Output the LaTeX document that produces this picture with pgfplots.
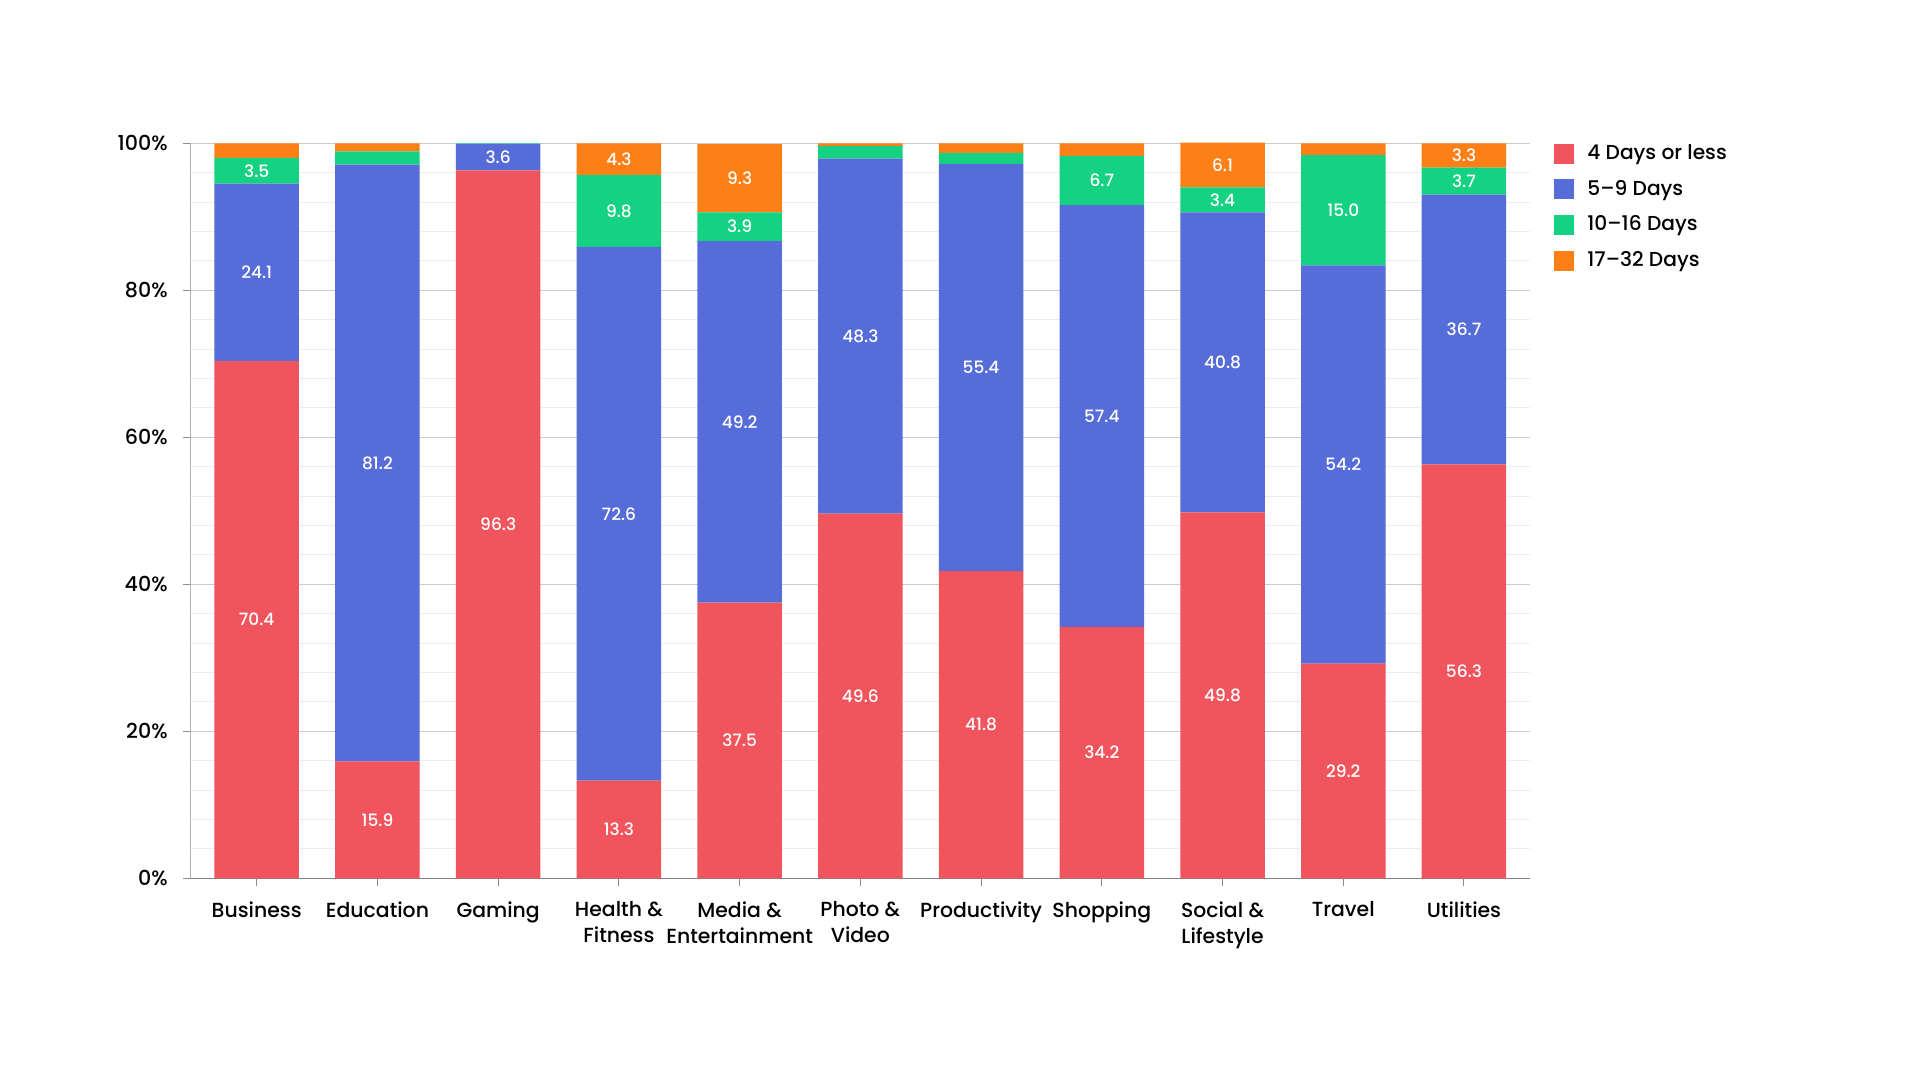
\documentclass[border=0pt]{standalone}
\usepackage{pgfplots}
\pgfplotsset{compat=1.18}
\usepackage{fontspec}
\setmainfont{Poppins}[UprightFont={* Medium}]
\definecolor{cred}{RGB}{240,84,92}
\definecolor{cblue}{RGB}{86,108,216}
\definecolor{cgreen}{RGB}{20,210,130}
\definecolor{corange}{RGB}{253,128,22}
\pgfplotsset{
  segstyle/.style={draw=none, fill=#1,
    legend image code/.code={\fill[#1] (0pt,-5pt) rectangle (10pt,5pt);}},
}
\begin{document}
\begin{tikzpicture}
\path[use as bounding box, fill=white] (0,0) rectangle (960.5pt,540.5pt);
\begin{axis}[
  at={(95.35pt,101.35pt)}, anchor=south west,
  scale only axis, width=669.65pt, height=367.5pt,
  ybar stacked, bar width=0.7,
  xmin=-0.547, xmax=10.547, ymin=0, ymax=100,
  xtick={0,...,10},
  xticklabels={Business,Education,Gaming,{Health \&\\Fitness},{Media \&\\Entertainment},{Photo \&\\Video},Productivity,Shopping,{Social \&\\Lifestyle},Travel,Utilities},
  ytick={0,20,40,60,80,100},
  yticklabels={0\%,20\%,40\%,60\%,80\%,100\%},
  minor y tick num=4,
  ymajorgrids, yminorgrids,
  major grid style={color=black!20, line width=0.5pt},
  minor grid style={color=black!7, line width=0.5pt},
  axis x line*=bottom, axis y line*=left,
  x axis line style={color=black!50, line width=0.7pt},
  y axis line style={color=black!30, line width=0.5pt},
  tick align=outside, major tick length=4pt, minor tick length=0pt,
  tick style={color=black!45, line width=0.5pt},
  xticklabel style={align=center, font=\fontsize{10.2}{13}\selectfont, text=black, yshift=-4pt},
  yticklabel style={font=\fontsize{10.3}{13}\selectfont, text=black, xshift=-4pt},
  /pgf/number format/assume math mode=true,
  point meta=explicit symbolic,
  nodes near coords,
  every node near coord/.append style={anchor=center, text=white,
     font=\fontsize{8.5}{10}\selectfont},
  legend style={at={(1,1)}, anchor=north west, xshift=12pt, yshift=1.5pt,
     draw=none, fill=none, font=\fontsize{10.1}{12}\selectfont,
     row sep=4.8pt, inner sep=0pt,
     /tikz/every odd column/.append style={column sep=4.5pt}},
  legend cell align=left,
  clip=false,
]
\addplot+[segstyle=cred] coordinates {
 (0,70.4) [70.4] (1,15.9) [15.9] (2,96.3) [96.3] (3,13.3) [13.3] (4,37.5) [37.5]
 (5,49.6) [49.6] (6,41.8) [41.8] (7,34.2) [34.2] (8,49.8) [49.8] (9,29.2) [29.2] (10,56.3) [56.3]};
\addplot+[segstyle=cblue] coordinates {
 (0,24.1) [24.1] (1,81.2) [81.2] (2,3.6) [3.6] (3,72.6) [72.6] (4,49.2) [49.2]
 (5,48.3) [48.3] (6,55.4) [55.4] (7,57.4) [57.4] (8,40.8) [40.8] (9,54.2) [54.2] (10,36.7) [36.7]};
\addplot+[segstyle=cgreen] coordinates {
 (0,3.5) [3.5] (1,1.8) [] (2,0.1) [] (3,9.8) [9.8] (4,3.9) [3.9]
 (5,1.7) [] (6,1.5) [] (7,6.7) [6.7] (8,3.4) [3.4] (9,15.0) [15.0] (10,3.7) [3.7]};
\addplot+[segstyle=corange] coordinates {
 (0,2.0) [] (1,1.1) [] (2,0.0) [] (3,4.3) [4.3] (4,9.3) [9.3]
 (5,0.4) [] (6,1.3) [] (7,1.7) [] (8,6.1) [6.1] (9,1.6) [] (10,3.3) [3.3]};
\legend{4 Days or less,5--9 Days,10--16 Days,17--32 Days}
\end{axis}
\end{tikzpicture}
\end{document}
